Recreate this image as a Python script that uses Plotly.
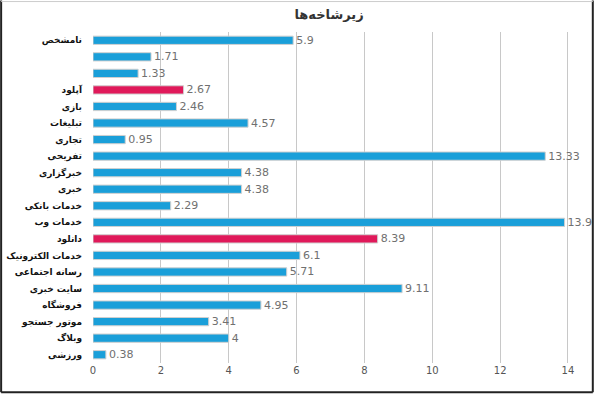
import plotly.graph_objects as go

categories = ["نامشخص", " ", "  ", "آپلود", "بازی", "تبلیغات", "تجاری", "تفریحی",
              "خبرگزاری", "خبری", "خدمات بانکی", "خدمات وب", "دانلود",
              "خدمات الکترونیک", "رسانه اجتماعی", "سایت خبری", "فروشگاه",
              "موتور جستجو", "وبلاگ", "ورزشی"]
values = [5.9, 1.71, 1.33, 2.67, 2.46, 4.57, 0.95, 13.33, 4.38, 4.38, 2.29, 13.9,
          8.39, 6.1, 5.71, 9.11, 4.95, 3.41, 4, 0.38]
highlight = ["آپلود", "دانلود"]
x_ticks = [0, 2, 4, 6, 8, 10, 12, 14]

blue = "#1a9fd9"
red = "#e0195a"
colors = [red if c in highlight else blue for c in categories]

fig = go.Figure(go.Bar(
    x=values, y=categories, orientation="h",
    marker=dict(color=colors, line=dict(color="#d0d0d0", width=1)),
    text=[f"{v:g}" for v in values], textposition="outside",
    constraintext="none",
    textfont=dict(family="DejaVu Sans", size=11, color="#707070"),
    cliponaxis=False, width=0.5,
))

frame = dict(color="#222222", width=2)
fig.update_layout(
    width=595, height=397,
    margin=dict(l=93, r=26, t=32, b=34),
    paper_bgcolor="white", plot_bgcolor="white",
    showlegend=False,
    title=dict(text="<b>زیرشاخه‌ها</b>", x=0.553, xanchor="center", y=0.975, yanchor="top",
               font=dict(family="DejaVu Sans", size=13, color="#333333")),
    xaxis=dict(range=[0, 14.03], tickvals=x_ticks, showgrid=True, gridcolor="#c8c8c8",
               gridwidth=1, zeroline=False, showline=False, automargin=False,
               tickfont=dict(family="DejaVu Sans", size=10, color="#555555")),
    yaxis=dict(autorange="reversed", showgrid=False, ticks="", ticklabelstandoff=10,
               automargin=False,
               tickfont=dict(family="DejaVu Sans", size=9, color="#111111", weight="bold")),
    shapes=[
        dict(type="line", xref="paper", yref="paper", x0=-0.193, x1=-0.193, y0=-0.088, y1=1.095, line=frame),
        dict(type="line", xref="paper", yref="paper", x0=1.050, x1=1.050, y0=-0.088, y1=1.095, line=frame),
        dict(type="line", xref="paper", yref="paper", x0=-0.193, x1=1.050, y0=-0.088, y1=-0.088, line=frame),
        dict(type="line", xref="paper", yref="paper", x0=-0.193, x1=1.050, y0=1.092, y1=1.092,
             line=dict(color="#cccccc", width=1)),
    ],
)

fig.write_html("out.html", config={"displayModeBar": False},
               post_script="document.body.style.margin='0';")
